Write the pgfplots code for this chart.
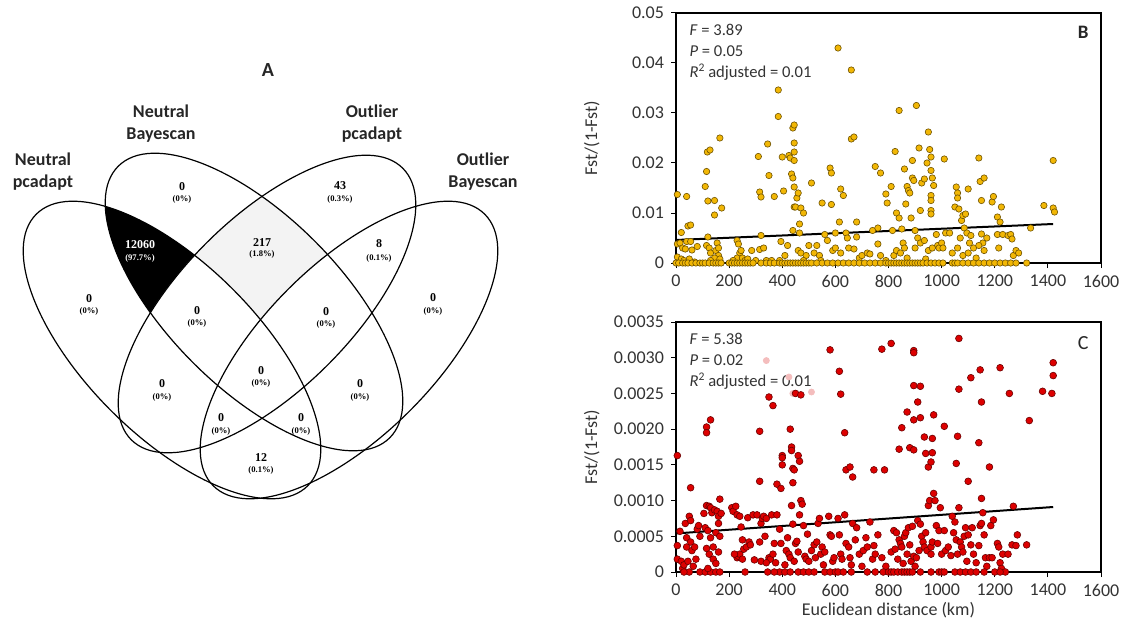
\documentclass[border=0pt]{standalone}
\usepackage{pgfplots}
\pgfplotsset{compat=1.18}
\usepackage{fontspec}
\setmainfont{Carlito}
\newfontfamily\timesf{Liberation Serif}
\definecolor{gold}{HTML}{F2B705}
\definecolor{goldline}{HTML}{6E5200}
\definecolor{redf}{HTML}{DD0000}
\definecolor{redline}{HTML}{6A0000}
\definecolor{pale}{HTML}{F4BDBD}
\definecolor{txt}{HTML}{333333}
\definecolor{lgray}{HTML}{F3F3F3}
\pgfplotsset{
 scat/.style={
  scale only axis, width=212.5pt, height=125pt,
  xmin=0,xmax=1600, xtick={0,200,400,600,800,1000,1200,1400,1600},
  xticklabels={0,200,400,600,800,1000,1200,1400,1600},
  tick align=outside, xtick pos=bottom, ytick pos=left,
  major tick length=2.5pt, scaled y ticks=false,
  tick style={black, line width=0.5pt},
  axis line style={black, line width=0.6pt},
  ticklabel style={font=\fontsize{9}{10}\selectfont, text=txt},
  label style={font=\fontsize{9}{10}\selectfont, text=txt},
  clip=false,
  ylabel={Fst/(1-Fst)},
  ylabel style={at={(axis description cs:-0.198,0.5)}, anchor=center},
 },
}
\tikzset{annot/.style={anchor=west, font=\fontsize{8.3}{9}\selectfont, text=txt, inner sep=0pt},
 eA/.style={rotate around={-45:(axis cs:172,278)}},
 eB/.style={rotate around={-45:(axis cs:254,326)}},
 eC/.style={rotate around={45:(axis cs:267,324)}},
 eD/.style={rotate around={45:(axis cs:349,278)}}}
\newcommand{\EA}{(axis cs:172,278) ellipse [x radius=96pt, y radius=43pt]}
\newcommand{\EB}{(axis cs:254,326) ellipse [x radius=96pt, y radius=43pt]}
\newcommand{\EC}{(axis cs:267,324) ellipse [x radius=96pt, y radius=43pt]}
\newcommand{\ED}{(axis cs:349,278) ellipse [x radius=96pt, y radius=43pt]}
\newcommand{\vn}[5]{%
 \node[font=\timesf\bfseries\fontsize{6}{6}\selectfont, inner sep=0pt] at (axis cs:#1,#2) {#4};
 \node[font=\timesf\bfseries\fontsize{4.3}{5}\selectfont, inner sep=0pt] at (axis cs:#1,#3) {#5};}
\newcommand{\vnw}[5]{%
 \node[font=\timesf\bfseries\fontsize{6}{6}\selectfont, inner sep=0pt, text=white] at (axis cs:#1,#2) {#4};
 \node[font=\timesf\bfseries\fontsize{4.3}{5}\selectfont, inner sep=0pt, text=white] at (axis cs:#1,#3) {#5};}
\begin{document}
\begin{tikzpicture}
\useasboundingbox (0,0) rectangle (562pt,314pt);
% ---------------- Venn ----------------
\begin{axis}[at={(0pt,0pt)}, anchor=south west, scale only axis, width=280pt, height=314pt,
 xmin=0,xmax=560,ymin=0,ymax=628, axis lines=none, clip=false]
\addplot[draw=none] coordinates {(0,0)};
\begin{scope}
 \clip[eA] \EA;
 \clip[eB] \EB;
 \fill[black] (axis cs:0,0) rectangle (axis cs:560,628);
 \fill[white,eC] \EC;
 \fill[white,eD] \ED;
\end{scope}
\begin{scope}
 \clip[eB] \EB;
 \clip[eC] \EC;
 \fill[lgray] (axis cs:0,0) rectangle (axis cs:560,628);
 \fill[white,eA] \EA;
 \fill[white,eD] \ED;
\end{scope}
\draw[line width=0.6pt,eA] \EA;
\draw[line width=0.6pt,eB] \EB;
\draw[line width=0.6pt,eC] \EC;
\draw[line width=0.6pt,eD] \ED;
\node[font=\bfseries\fontsize{10}{11}\selectfont, text=black!85] at (axis cs:268,558) {A};
\node[font=\bfseries\fontsize{9}{11}\selectfont, text=black!85, align=center] at (axis cs:43,456) {Neutral\\pcadapt};
\node[font=\bfseries\fontsize{9}{11}\selectfont, text=black!85, align=center] at (axis cs:161,504) {Neutral\\Bayescan};
\node[font=\bfseries\fontsize{9}{11}\selectfont, text=black!85, align=center] at (axis cs:372,504) {Outlier\\pcadapt};
\node[font=\bfseries\fontsize{9}{11}\selectfont, text=black!85, align=center] at (axis cs:483,456) {Outlier\\Bayescan};
\vn{182}{441}{429}{0}{(0\%)}
\vnw{140}{383}{370}{12060}{(97.7\%)}
\vn{262}{385}{374}{217}{(1.8\%)}
\vn{89}{329}{317}{0}{(0\%)}
\vn{197}{317}{305}{0}{(0\%)}
\vn{340}{442}{429}{43}{(0.3\%)}
\vn{379}{384}{370}{8}{(0.1\%)}
\vn{433}{330}{317}{0}{(0\%)}
\vn{326}{316}{304}{0}{(0\%)}
\vn{162}{244}{231}{0}{(0\%)}
\vn{261}{257}{245}{0}{(0\%)}
\vn{221}{210}{197}{0}{(0\%)}
\vn{261}{170}{158}{12}{(0.1\%)}
\vn{360}{244}{231}{0}{(0\%)}
\vn{301}{210}{197}{0}{(0\%)}
\end{axis}
% ---------------- B ----------------
\begin{axis}[scat, at={(338pt,182.5pt)}, anchor=south west,
 ymin=0,ymax=0.05, ytick={0,0.01,0.02,0.03,0.04,0.05}, yticklabels={0,0.01,0.02,0.03,0.04,0.05}]
\addplot[only marks, mark=*, mark size=1.6pt, mark options={fill=gold, draw=goldline, line width=0.3pt}] coordinates {
(5,0.0137)(40,0.0133)(20,0.0061)(45,0.0074)(55,0.0076)(40,0.0043)(55,0.0043)(5,0.0038)(15,0.0040)(25,0.0030)(35,0.0028)(60,0.0026)(80,0.0033)(5,0.0012)(20,0.0008)(30,0.0005)(50,0.0008)(70,0.0002)
(110,0.0153)(115,0.0183)(118,0.0222)(128,0.0226)(120,0.0124)(145,0.0125)(145,0.0096)(165,0.0250)(172,0.0110)(120,0.0052)(115,0.0035)(125,0.0030)(130,0.0020)(150,0.0025)(155,0.0040)(160,0.0030)(160,0.0015)(145,0.0010)(165,0.0008)(130,0.0005)
(0,0)(10,0)(25,0)(35,0)(45,0)(60,0)(75,0)(90,0)(100,0)(110,0)(125,0)(140,0)(150,0)(160,0)(170,0)
(230,0.0045)(235,0.0038)(240,0.0020)(245,0.0025)(230,0.0010)(250,0.0010)(260,0.0005)(270,0.0008)(285,0.0025)(300,0.0005)(215,0.0005)
(200,0)(210,0)(220,0)(230,0)(240,0)(250,0)(260,0)(270,0)(280,0)(290,0)
(310,0.0213)(315,0.0142)(320,0.0132)(320,0.0055)(315,0.0027)(330,0.0030)(345,0.0238)(350,0.0175)(370,0.0133)(385,0.0346)(385,0.0293)(395,0.0043)(390,0.0005)(340,0.0005)(360,0.0005)
(320,0)(340,0)(355,0)(370,0)(390,0)
(400,0.0212)(405,0.0144)(410,0.0015)(420,0.0035)(425,0.0215)(430,0.0210)(435,0.0178)(440,0.0170)(440,0.0065)(440,0.0270)(445,0.0276)(445,0.0240)(445,0.0222)(445,0.0205)(445,0.0152)(445,0.0112)(450,0.0112)(455,0.0130)(460,0.0140)(465,0.0078)(465,0.0060)(470,0.0110)(480,0.0100)(460,0.0025)(470,0.0020)(490,0.0015)(500,0.0035)(480,0.0005)
(400,0)(410,0)(420,0)(430,0)(440,0)(450,0)(460,0)(470,0)(480,0)(490,0)(500,0)
(510,0.0160)(520,0.0020)(530,0.0035)(540,0.0015)(545,0.0005)(550,0.0120)(560,0.0057)(570,0.0045)(580,0.0190)(585,0.0180)(585,0.0117)(590,0.0025)(600,0.0060)(610,0.0430)(615,0.0082)(620,0.0148)(630,0.0135)(600,0.0030)(620,0.0020)(640,0.0060)(645,0.0050)(650,0.0030)(660,0.0386)(660,0.0248)(670,0.0252)(680,0.0082)(680,0.0052)(670,0.0028)(690,0.0010)(700,0.0015)
(510,0)(530,0)(550,0)(570,0)(590,0)(610,0)(630,0)(650,0)(670,0)(690,0)
(720,0.0020)(730,0.0018)(740,0.0065)(750,0.0193)(760,0.0070)(760,0.0038)(770,0.0180)(790,0.0138)(795,0.0120)(770,0.0015)(790,0.0005)
(710,0)(730,0)(750,0)(770,0)(790,0)
(810,0.0153)(815,0.0065)(825,0.0223)(830,0.0100)(840,0.0305)(840,0.0090)(850,0.0068)(855,0.0040)(860,0.0188)(865,0.0118)(870,0.0153)(875,0.0145)(880,0.0140)(885,0.0090)(890,0.0205)(890,0.0170)(895,0.0165)(900,0.0065)(905,0.0315)(915,0.0230)(920,0.0105)(925,0.0160)(935,0.0168)(945,0.0200)(950,0.0262)(955,0.0227)(960,0.0212)(960,0.0185)(960,0.0135)(960,0.0125)(960,0.0105)(960,0.0098)(965,0.0170)(970,0.0155)(980,0.0057)(985,0.0035)(990,0.0030)(1000,0.0040)(1005,0.0030)(1010,0.0208)(1015,0.0060)(820,0.0015)(830,0.0025)(845,0.0020)(860,0.0030)(870,0.0010)(900,0.0030)(910,0.0050)(920,0.0040)(935,0.0045)(950,0.0025)(965,0.0030)(940,0.0008)
(800,0)(810,0)(820,0)(830,0)(840,0)(850,0)(860,0)(870,0)(880,0)(890,0)(900,0)(910,0)(920,0)(930,0)(945,0)(960,0)(975,0)(990,0)(1005,0)
(1030,0.0060)(1040,0.0020)(1050,0.0112)(1055,0.0152)(1060,0.0140)(1060,0.0130)(1065,0.0108)(1070,0.0050)(1075,0.0085)(1080,0.0095)(1085,0.0070)(1090,0.0098)(1095,0.0060)(1100,0.0148)(1105,0.0040)(1110,0.0055)(1120,0.0030)(1140,0.0210)(1145,0.0163)(1150,0.0125)(1160,0.0170)(1150,0.0058)(1155,0.0040)(1160,0.0025)(1170,0.0050)(1190,0.0122)(1195,0.0133)(1210,0.0092)(1210,0.0057)(1215,0.0030)(1220,0.0082)(1225,0.0112)(1230,0.0057)(1060,0.0030)(1080,0.0015)(1100,0.0020)(1130,0.0010)(1140,0.0035)
(1040,0)(1050,0)(1060,0)(1080,0)(1100,0)(1120,0)(1140,0)(1160,0)(1180,0)(1200,0)(1220,0)
(1250,0.0055)(1260,0.0057)(1265,0.0048)(1270,0.0015)(1280,0.0025)(1290,0.0020)(1335,0.0070)(1385,0.0115)(1420,0.0110)(1425,0.0102)(1420,0.0205)
(1240,0)(1260,0)(1280,0)(1320,0)
};
\addplot[black, line width=1pt] coordinates {(0,0.0046) (1420,0.0078)};
\node[annot] at (axis description cs:0.031,0.932) {\textit{F} = 3.89};
\node[annot] at (axis description cs:0.031,0.848) {\textit{P} = 0.05};
\node[annot] at (axis description cs:0.031,0.764) {\textit{R}\textsuperscript{2}\,adjusted = 0.01};
\node[font=\bfseries\fontsize{9.5}{10}\selectfont, text=black!85] at (axis description cs:0.958,0.924) {B};
\end{axis}
% ---------------- C ----------------
\begin{axis}[scat, at={(338pt,28pt)}, anchor=south west,
 ymin=0,ymax=0.0035, ytick={0,0.0005,0.001,0.0015,0.002,0.0025,0.003,0.0035},
 yticklabels={0,0.0005,0.0010,0.0015,0.0020,0.0025,0.0030,0.0035},
 xlabel={Euclidean distance (km)},
 xlabel style={at={(axis description cs:0.5,-0.152)}, anchor=center}]
\addplot[only marks, mark=*, mark size=1.5pt, mark options={fill=pale, draw=pale}] coordinates {
(340,0.00296)(425,0.00273)(510,0.00252)(440,0.00250)
};
\addplot[only marks, mark=*, mark size=1.7pt, mark options={fill=redf, draw=redline, line width=0.3pt}] coordinates {
(5,0.00163)(55,0.00118)(115,0.00203)(115,0.00195)(130,0.00213)(315,0.00197)(315,0.00127)(350,0.00245)(365,0.00233)(380,0.00123)(395,0.00117)(400,0.00163)(400,0.00160)(400,0.00150)(430,0.00200)(435,0.00175)(435,0.00170)(440,0.00145)(440,0.00125)(445,0.00143)(450,0.00250)(460,0.00163)(465,0.00155)(470,0.00248)(580,0.00311)(615,0.00281)(620,0.00249)(635,0.00195)(640,0.00143)(655,0.00147)(665,0.00133)(745,0.00143)(775,0.00312)(785,0.00143)(810,0.00320)(840,0.00172)(850,0.00202)(870,0.00224)(880,0.00174)(895,0.00310)(895,0.00307)(895,0.00261)(895,0.00213)(895,0.00171)(910,0.00238)(920,0.00260)(920,0.00216)(935,0.00189)(940,0.00166)(950,0.00147)(960,0.00154)(965,0.00167)(965,0.00187)(970,0.00220)(1010,0.00204)(1055,0.00152)(1060,0.00190)(1065,0.00327)(1065,0.00256)(1100,0.00127)(1110,0.00272)(1140,0.00181)(1145,0.00283)(1150,0.00238)(1150,0.00103)(1180,0.00147)(1220,0.00286)(1255,0.00250)(1330,0.00212)(1380,0.00253)(1415,0.00250)(1420,0.00293)(1420,0.00275)
(5,0.00037)(5,0.00018)(15,0.00057)(20,0.00015)(25,0.00005)(30,0.0001)(35,0.00068)(40,0.00048)(40,0.00035)(45,0.00015)(50,0.00078)(55,0.00072)(55,0.00042)(60,0.0003)(65,0.00008)(70,0.00035)(80,0.0006)(85,0.00065)(90,0.0005)(75,0.00018)(50,0)(90,0)(30,0)
(105,0.00082)(110,0.00062)(115,0.00093)(120,0.00058)(125,0.00092)(130,0.0009)(130,0.00048)(135,0.00083)(140,0.00035)(145,0.00087)(150,0.00055)(155,0.00085)(160,0.00078)(160,0.00068)(165,0.0005)(165,0.00102)(170,0.00082)(115,0.00033)(125,0.00025)(140,0.00018)(150,0.00012)(160,0.00028)(110,0)(130,0)(150,0)(165,0)(120,0.00005)
(210,0.0009)(215,0.00085)(225,0.00092)(230,0.0008)(240,0.00078)(245,0.00063)(250,0.00045)(230,0.0002)(235,0.00022)(240,0.00025)(250,0.00018)(255,0.00032)(265,0.00035)(270,0.00076)(275,0.00042)(280,0.00038)(290,0.0008)(295,0.00017)(260,0)(220,0.00025)
(305,0.0008)(315,0.00042)(320,0.00068)(325,0.00075)(330,0.00078)(335,0.0005)(340,0.00075)(350,0.0002)(355,0.00018)(360,0.0008)(365,0.00025)(370,0.0004)(375,0.00013)(380,0.0008)(390,0.0006)(395,0.0004)(320,0.00015)(340,0.00013)(345,0)(390,0)(370,0)
(410,0.0001)(415,0.0003)(420,0.00048)(425,0.00025)(430,0.0002)(435,0.00093)(440,0.00067)(445,0.00015)(450,0.0004)(455,0.00043)(460,0.00028)(465,0.0008)(470,0.001)(475,0.00095)(480,0.00065)(485,0.00022)(490,0.00018)(495,0.00053)(500,0.00015)(410,0)(430,0)(460,0)(480,0)(500,0)
(510,0.0003)(520,0.00038)(525,0.0002)(530,0.00042)(535,0.00068)(540,0.00075)(545,0.00025)(550,0.00035)(555,0.0001)(560,0.00028)(575,0.00078)(580,0.00052)(585,0.0005)(590,0.00015)(595,0.0002)(520,0)(560,0)(580,0)(600,0)
(610,0.00075)(615,0.00052)(620,0.00025)(625,0.00018)(635,0.0008)(640,0.0004)(650,0.00035)(655,0.0002)(660,0.0001)(665,0.00068)(675,0.00045)(680,0.00062)(690,0.00025)(700,0.00008)(610,0)(630,0)(660,0)
(705,0.0003)(715,0.00048)(720,0.00035)(730,0.0007)(740,0.00018)(745,0.00037)(750,0.00025)(760,0.00052)(775,0.0002)(790,0.00008)(720,0)(750,0)(780,0)(800,0)
(810,0.00028)(820,0.00058)(825,0.00032)(830,0.00055)(835,0.00018)(840,0.00045)(845,0.0004)(850,0.00035)(855,0.00012)(860,0.0005)(865,0.00055)(870,0.00025)(875,0.00062)(880,0.00038)(885,0.00015)(890,0.00064)(895,0.00022)(900,0.00008)(810,0)(820,0)(835,0)(850,0)(860,0)(870,0)(880,0)(890,0)
(905,0.0002)(910,0.00072)(915,0.0003)(920,0.00067)(925,0.0005)(930,0.00042)(935,0.00035)(940,0.00055)(945,0.0003)(950,0.00093)(955,0.001)(960,0.00035)(965,0.00042)(970,0.0011)(975,0.001)(980,0.00065)(985,0.0004)(990,0.00058)(995,0.0009)(1000,0.00025)(960,0.00025)(920,0)(960,0)(990,0)(1000,0)
(1010,0.00058)(1015,0.0003)(1025,0.00035)(1035,0.00023)(1040,0.00078)(1045,0.00055)(1050,0.0007)(1055,0.00045)(1060,0.00025)(1065,0.0009)(1070,0.00042)(1075,0.00035)(1080,0.00028)(1085,0.0005)(1090,0.00062)(1095,0.00015)(1100,0.00052)(1010,0)(1050,0)(1070,0)(1090,0)
(1110,0.00038)(1115,0.00062)(1120,0.00025)(1130,0.00013)(1140,0.00037)(1145,0.00065)(1150,0.00068)(1155,0.00083)(1160,0.00052)(1165,0.0002)(1170,0.00008)(1180,0.0002)(1185,0.00065)(1190,0.0002)(1195,0.00073)(1110,0)(1130,0)(1160,0)(1200,0)
(1210,0.0004)(1215,0.00035)(1220,0.00013)(1225,0.00005)(1230,0.00025)(1240,0)(1250,0.00025)(1265,0.00038)(1270,0.00092)(1280,0.00037)(1285,0.00052)(1220,0)
(1320,0.00038)
};
\addplot[black, line width=1pt] coordinates {(0,0.00054) (1420,0.00091)};
\node[annot] at (axis description cs:0.031,0.932) {\textit{F} = 5.38};
\node[annot] at (axis description cs:0.031,0.848) {\textit{P} = 0.02};
\node[annot] at (axis description cs:0.031,0.764) {\textit{R}\textsuperscript{2}\,adjusted = 0.01};
\node[font=\fontsize{10}{10}\selectfont, text=black!85] at (axis description cs:0.958,0.916) {C};
\end{axis}
\end{tikzpicture}
\end{document}
